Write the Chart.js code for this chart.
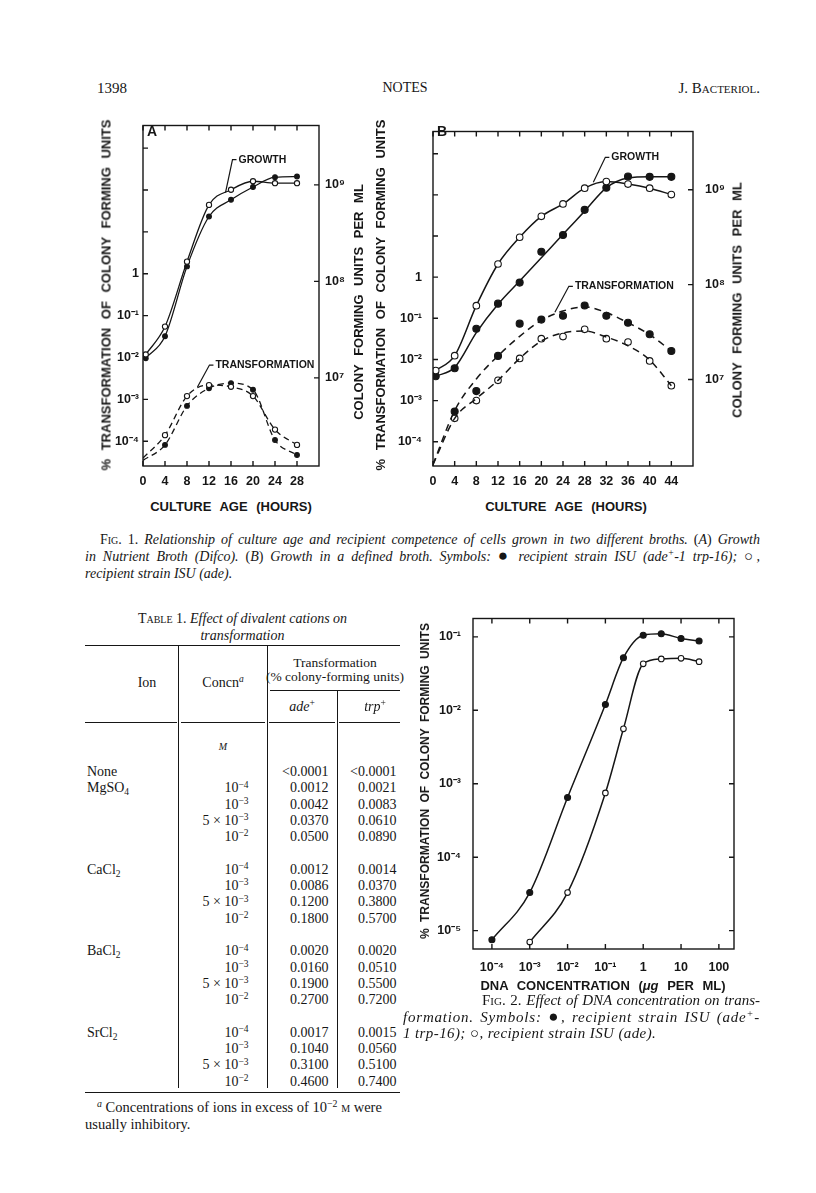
<!DOCTYPE html>
<html lang="en">
<head>
<meta charset="utf-8">
<title>J. Bacteriol. 1398 - Notes</title>
<script src="https://cdn.jsdelivr.net/npm/chart.js@4.4.1/dist/chart.umd.min.js"></script>
<style>
  html, body { margin: 0; padding: 0; background: #fff; }
  #page { position: relative; width: 816px; height: 1193px; overflow: hidden; color: #161616;
          font-family: "Liberation Serif", "Times New Roman", serif; }
  .t { position: absolute; white-space: nowrap; line-height: 16px; font-size: 14px; }
  .sc { font-variant: small-caps; }
  .jl { white-space: normal; text-align: justify; text-align-last: justify; }
  .dot { font-size: 17px; line-height: 0; }
  canvas { position: absolute; }
  .axt { position: absolute; white-space: nowrap; font-family: "Liberation Sans", Arial, sans-serif;
         font-weight: bold; font-size: 13px; word-spacing: 5px; line-height: 1;
         transform: translate(-50%, -50%); }
  .rot { transform: translate(-50%, -50%) rotate(-90deg); }
  .rule { position: absolute; background: #161616; }
  sup { font-size: 68%; vertical-align: 0; position: relative; top: -0.5em; line-height: 0; }
  sub { font-size: 68%; vertical-align: 0; position: relative; top: 0.3em; line-height: 0; }
</style>
</head>
<body>
<div id="page">
  <!-- running head -->
  <div class="t" style="left:97px;top:80px;font-size:15px;">1398</div>
  <div class="t" style="left:405px;top:80px;transform:translateX(-50%);">NOTES</div>
  <div class="t sc" style="right:56px;top:80px;font-size:15px;">J. Bacteriol.</div>

  <!-- Fig. 1 -->
  <canvas id="figA" width="258" height="384" style="left:103px;top:112px;width:258px;height:384px;"></canvas>
  <canvas id="figB" width="345" height="384" style="left:393px;top:112px;width:345px;height:384px;"></canvas>
  <div class="axt" style="left:152px;top:131px;font-size:14px;">A</div>
  <div class="axt" style="left:442px;top:131px;font-size:14px;">B</div>
  <div class="axt rot" style="left:106px;top:295px;">% TRANSFORMATION OF COLONY FORMING UNITS</div>
  <div class="axt rot" style="left:358px;top:302px;">COLONY FORMING UNITS PER ML</div>
  <div class="axt" style="left:231px;top:506px;">CULTURE AGE (HOURS)</div>
  <div class="axt rot" style="left:380px;top:295px;">% TRANSFORMATION OF COLONY FORMING UNITS</div>
  <div class="axt rot" style="left:737px;top:300px;">COLONY FORMING UNITS PER ML</div>
  <div class="axt" style="left:566px;top:506px;">CULTURE AGE (HOURS)</div>

  <div class="t jl" style="left:100px;top:532px;width:660px;"><span class="sc">Fig.</span> 1. <i>Relationship of culture age and recipient competence of cells grown in two different broths.</i> (<i>A</i>) <i>Growth</i></div>
  <div class="t jl" style="left:85px;top:549px;width:675px;"><i>in Nutrient Broth (Difco).</i> (<i>B</i>) <i>Growth in a defined broth. Symbols:</i> <span class="dot">&#9679;</span> <i>recipient strain ISU (ade<sup>+</sup>-1 trp-16);</i> <span class="dot" style="font-size:15px;">&#9675;</span><i>,</i></div>
  <div class="t" style="left:85px;top:566px;"><i>recipient strain ISU (ade).</i></div>

  <!-- Table 1 -->
  <div class="t" style="left:85px;top:610px;width:315px;text-align:center;white-space:normal;line-height:17px;"><span class="sc">Table</span> 1. <i>Effect of divalent cations on</i><br><i>transformation</i></div>
  <div id="table"></div>

  <!-- Fig. 2 -->
  <canvas id="fig2" width="316" height="380" style="left:428px;top:599px;width:316px;height:380px;"></canvas>
  <div class="axt rot" style="left:425px;top:781px;font-size:12px;word-spacing:3px;">% TRANSFORMATION OF COLONY FORMING UNITS</div>
  <div class="axt" style="left:603px;top:985px;">DNA CONCENTRATION (<i>&#956;g</i> PER ML)</div>
  <div class="t jl" style="left:482px;top:992px;width:278px;font-size:15px;"><span class="sc">Fig.</span> 2. <i>Effect of DNA concentration on trans-</i></div>
  <div class="t jl" style="left:403px;top:1009px;width:357px;font-size:15px;letter-spacing:0.8px;"><i>formation. Symbols:</i> <span class="dot">&#9679;</span><i>, recipient strain ISU (ade<sup>+</sup>-</i></div>
  <div class="t" style="left:403px;top:1025px;font-size:15px;letter-spacing:0.4px;"><i>1 trp-16);</i> <span class="dot" style="font-size:15px;">&#9675;</span><i>, recipient strain ISU (ade).</i></div>
</div>

<script>
// ---- Fig. 1A: Nutrient Broth ----
const hoursA = [0.5, 4, 8, 12, 16, 20, 24, 28];
const growthOpenA = [1.75e7, 3.4e7, 1.6e8, 6.2e8, 8.9e8, 1.09e9, 1.04e9, 1.04e9];
const growthFilledA = [1.6e7, 2.7e7, 1.43e8, 4.7e8, 7.0e8, 9.5e8, 1.2e9, 1.22e9];
const transHoursA = [0, 4, 8, 12, 16, 20, 24, 28];
const transOpenA = [4.0e-5, 1.4e-4, 1.2e-3, 2.2e-3, 2.0e-3, 1.2e-3, 1.9e-4, 8.2e-5];
const transFilledA = [3.5e-5, 8.2e-5, 7.0e-4, 1.85e-3, 2.45e-3, 1.7e-3, 1.07e-4, 4.7e-5];

// ---- Fig. 1B: defined broth ----
const hoursB = [0.5, 4, 8, 12, 16, 20, 24, 28, 32, 36, 40, 44];
const growthOpenB = [1.24e7, 1.78e7, 6.0e7, 1.65e8, 3.16e8, 5.25e8, 7.1e8, 1.04e9, 1.22e9, 1.15e9, 1.04e9, 8.9e8];
const growthFilledB = [1.08e7, 1.31e7, 3.43e7, 6.3e7, 1.05e8, 2.22e8, 3.34e8, 6.15e8, 1.05e9, 1.38e9, 1.37e9, 1.37e9];
const growthFilledFitB = [1.08e7, 1.34e7, 3.12e7, 6.2e7, 1.09e8, 1.92e8, 3.39e8, 5.96e8, 1.05e9, 1.33e9, 1.37e9, 1.37e9];
const transHoursB = [4, 8, 12, 16, 20, 24, 28, 32, 36, 40, 44];
const transFilledB = [5.4e-4, 1.7e-3, 1.22e-2, 7.4e-2, 9.3e-2, 0.115, 0.204, 0.115, 7.8e-2, 4.1e-2, 1.6e-2];
const transOpenB = [3.7e-4, 1.0e-3, 3.1e-3, 1.06e-2, 3.2e-2, 3.6e-2, 5.4e-2, 3.2e-2, 2.65e-2, 9.2e-3, 2.3e-3];
const fitHoursB = [0, 4, 8, 12, 16, 20, 24, 28, 32, 36, 40, 44];
const transFilledFitB = [2.8e-5, 5.7e-4, 3.35e-3, 1.22e-2, 3.65e-2, 8.9e-2, 0.150, 0.189, 0.138, 7.8e-2, 4.0e-2, 1.6e-2];
const transOpenFitB = [2.8e-5, 3.7e-4, 1.12e-3, 3.1e-3, 1.06e-2, 2.8e-2, 4.4e-2, 4.9e-2, 3.5e-2, 2.15e-2, 9.7e-3, 2.3e-3];

// ---- Fig. 2: DNA concentration ----
const dnaConc = [1e-4, 1e-3, 1e-2, 1e-1, 0.3, 1, 3, 10, 30];
const fig2Filled = [7.5e-6, 3.3e-5, 6.5e-4, 1.2e-2, 5.2e-2, 0.105, 0.11, 0.095, 0.088];
const fig2Open = [null, 7.0e-6, 3.3e-5, 7.5e-4, 5.6e-3, 4.3e-2, 5.0e-2, 5.1e-2, 4.6e-2];

// ---- tick labels ----
const hourTicksA = [0, 4, 8, 12, 16, 20, 24, 28];
const hourTicksB = [0, 4, 8, 12, 16, 20, 24, 28, 32, 36, 40, 44];
const transTicks = [1e-4, 1e-3, 1e-2, 1e-1, 1, 10, 100, 1000];
const cfuTicks = [1e7, 1e8, 1e9];
const dnaTicks = [1e-4, 1e-3, 1e-2, 1e-1, 1, 10, 100];
const fig2YTicks = [1e-5, 1e-4, 1e-3, 1e-2, 1e-1];

// ---- Table 1 ----
const tableIons = ['MgSO4', 'CaCl2', 'BaCl2', 'SrCl2'];
const concFactors = ['', '', '5 \u00d7 ', ''];
const concExponents = [-4, -3, -3, -2];
const noneValues = ['<0.0001', '<0.0001'];
const adeValues = [
  ['0.0012', '0.0042', '0.0370', '0.0500'],
  ['0.0012', '0.0086', '0.1200', '0.1800'],
  ['0.0020', '0.0160', '0.1900', '0.2700'],
  ['0.0017', '0.1040', '0.3100', '0.4600']
];
const trpValues = [
  ['0.0021', '0.0083', '0.0610', '0.0890'],
  ['0.0014', '0.0370', '0.3800', '0.5700'],
  ['0.0020', '0.0510', '0.5500', '0.7200'],
  ['0.0015', '0.0560', '0.5100', '0.7400']
];

const INK = '#161616';
const tickFont = { family: '"Liberation Sans", Arial, sans-serif', size: 12.5, weight: 'bold' };
const SUP = { '-': '\u207b', '0': '\u2070', '1': '\u00b9', '2': '\u00b2', '3': '\u00b3', '4': '\u2074', '5': '\u2075', '6': '\u2076', '7': '\u2077', '8': '\u2078', '9': '\u2079' };

function powLabel(v) {
  const e = Math.round(Math.log10(v));
  if (e === 0) return '1';
  if (e === 1) return '10';
  if (e === 2) return '100';
  return '10' + String(e).split('').map(c => SUP[c]).join('');
}

function pts(xs, ys) {
  return xs.map((x, i) => ({ x: x, y: ys[i] })).filter(p => p.y !== null);
}

// frame box, inward ticks and the leader-line labels
const framePlugin = {
  id: 'frame',
  afterDatasetsDraw(chart, args, opts) {
    const { ctx, chartArea: a, scales } = chart;
    const len = 5;
    ctx.save();
    ctx.strokeStyle = INK;
    ctx.lineWidth = 1.4;
    ctx.strokeRect(a.left, a.top, a.right - a.left, a.bottom - a.top);
    ctx.beginPath();
    scales.x.ticks.forEach(t => {
      const p = scales.x.getPixelForValue(t.value);
      ctx.moveTo(p, a.bottom); ctx.lineTo(p, a.bottom - len);
      ctx.moveTo(p, a.top); ctx.lineTo(p, a.top + len);
    });
    scales.y.ticks.forEach(t => {
      const p = scales.y.getPixelForValue(t.value);
      ctx.moveTo(a.left, p); ctx.lineTo(a.left + len, p);
      if (!scales.y2) { ctx.moveTo(a.right, p); ctx.lineTo(a.right - len, p); }
    });
    if (scales.y2) {
      scales.y2.ticks.forEach(t => {
        const p = scales.y2.getPixelForValue(t.value);
        ctx.moveTo(a.right, p); ctx.lineTo(a.right - len, p);
      });
    }
    ctx.stroke();

    (opts.notes || []).forEach(n => {
      const sx = scales.x.getPixelForValue(n.x);
      const sy = scales[n.axis].getPixelForValue(n.y);
      const ex = sx + n.dx, ey = sy + n.dy;
      ctx.beginPath();
      ctx.lineWidth = 1.2;
      ctx.moveTo(sx, sy); ctx.lineTo(ex, ey); ctx.lineTo(ex + 4, ey);
      ctx.stroke();
      ctx.fillStyle = INK;
      ctx.font = 'bold 10.5px "Liberation Sans", Arial, sans-serif';
      ctx.textBaseline = 'middle';
      ctx.fillText(n.text, ex + 6, ey);
    });
    ctx.restore();
  }
};

function hideAtZero(r) {
  return c => (c.raw && c.raw.x === 0 ? 0 : r);
}

function series(data, axis, opt) {
  return Object.assign({
    data: data,
    yAxisID: axis,
    borderColor: INK,
    borderWidth: 1.4,
    fill: false,
    cubicInterpolationMode: 'monotone',
    pointBorderColor: INK,
    pointBorderWidth: 1.1
  }, opt);
}

const noGrid = { display: false, drawTicks: false };

function fig1Scales(maxHours, hourTicks, leftPad, rightWidth, rightPad) {
  return {
    x: {
      type: 'linear', min: 0, max: maxHours,
      grid: noGrid, border: { display: false },
      afterFit: s => { s.height = 30; },
      afterBuildTicks: s => { s.ticks = hourTicks.map(v => ({ value: v })); },
      ticks: { padding: 8, autoSkip: false, maxRotation: 0, color: INK, font: tickFont, callback: v => String(v) }
    },
    y: {
      type: 'logarithmic', position: 'left', min: Math.pow(10, -4.59), max: Math.pow(10, 3.54),
      grid: noGrid, border: { display: false },
      afterFit: s => { s.width = 40; },
      afterBuildTicks: s => { s.ticks = transTicks.map(v => ({ value: v })); },
      ticks: { padding: leftPad, autoSkip: false, color: INK, font: tickFont, callback: v => (v <= 1 ? powLabel(v) : '') }
    },
    y2: {
      type: 'logarithmic', position: 'right', min: Math.pow(10, 6.087), max: Math.pow(10, 9.615),
      grid: noGrid, border: { display: false },
      afterFit: s => { s.width = rightWidth; },
      afterBuildTicks: s => { s.ticks = cfuTicks.map(v => ({ value: v })); },
      ticks: { padding: rightPad, autoSkip: false, color: INK, font: tickFont, callback: v => powLabel(v) }
    }
  };
}

function baseOptions(scales, notes) {
  return {
    responsive: false,
    devicePixelRatio: 1,
    animation: false,
    events: [],
    layout: { padding: { top: 10, right: 0, bottom: 0, left: 0 } },
    scales: scales,
    plugins: { legend: { display: false }, tooltip: { enabled: false }, frame: { notes: notes } }
  };
}

// Fig. 1A
new Chart(document.getElementById('figA'), {
  type: 'line',
  data: {
    datasets: [
      series(pts(hoursA, growthOpenA), 'y2', { pointRadius: 2.6, pointBackgroundColor: '#fff', borderWidth: 1.3 }),
      series(pts(hoursA, growthFilledA), 'y2', { pointRadius: 2.4, pointBackgroundColor: INK, borderWidth: 1.3 }),
      series(pts(transHoursA, transOpenA), 'y', { pointRadius: hideAtZero(2.6), pointBackgroundColor: '#fff', borderDash: [6, 4], borderWidth: 1.3 }),
      series(pts(transHoursA, transFilledA), 'y', { pointRadius: hideAtZero(2.4), pointBackgroundColor: INK, borderDash: [6, 4], borderWidth: 1.3 })
    ]
  },
  options: baseOptions(fig1Scales(32, hourTicksA, 4, 42, 6), [
    { text: 'GROWTH', x: 15.0, y: 8.3e8, axis: 'y2', dx: 7, dy: -33 },
    { text: 'TRANSFORMATION', x: 9.9, y: 1.97e-3, axis: 'y', dx: 12, dy: -22 }
  ]),
  plugins: [framePlugin]
});

// Fig. 1B
new Chart(document.getElementById('figB'), {
  type: 'line',
  data: {
    datasets: [
      series(pts(hoursB, growthOpenB), 'y2', { pointRadius: 3.3, pointBackgroundColor: '#fff', borderWidth: 1.5 }),
      series(pts(hoursB, growthFilledFitB), 'y2', { pointRadius: 0, borderWidth: 1.5 }),
      series(pts(hoursB, growthFilledB), 'y2', { showLine: false, pointRadius: 3.5, pointBackgroundColor: INK }),
      series(pts(fitHoursB, transFilledFitB), 'y', { pointRadius: 0, borderDash: [7, 5], borderWidth: 1.5 }),
      series(pts(fitHoursB, transOpenFitB), 'y', { pointRadius: 0, borderDash: [7, 5], borderWidth: 1.5 }),
      series(pts(transHoursB, transFilledB), 'y', { showLine: false, pointRadius: 3.5, pointBackgroundColor: INK }),
      series(pts(transHoursB, transOpenB), 'y', { showLine: false, pointRadius: 3.3, pointBackgroundColor: '#fff' })
    ]
  },
  options: baseOptions(fig1Scales(48, hourTicksB, 11, 45, 12), [
    { text: 'GROWTH', x: 29.6, y: 1.2e9, axis: 'y2', dx: 12, dy: -25 },
    { text: 'TRANSFORMATION', x: 22.5, y: 0.14, axis: 'y', dx: 14, dy: -26 }
  ]),
  plugins: [framePlugin]
});

// Fig. 2
const fig2Options = baseOptions({
  x: {
    type: 'logarithmic', min: Math.pow(10, -4.5), max: Math.pow(10, 2.4),
    grid: noGrid, border: { display: false },
    afterFit: s => { s.height = 30; },
    afterBuildTicks: s => { s.ticks = dnaTicks.map(v => ({ value: v })); },
    ticks: { padding: 11, autoSkip: false, maxRotation: 0, color: INK, font: tickFont, callback: v => powLabel(v) }
  },
  y: {
    type: 'logarithmic', position: 'left', min: Math.pow(10, -5.25), max: Math.pow(10, -0.75),
    grid: noGrid, border: { display: false },
    afterFit: s => { s.width = 45; },
    afterBuildTicks: s => { s.ticks = fig2YTicks.map(v => ({ value: v })); },
    ticks: { padding: 12, autoSkip: false, color: INK, font: tickFont, callback: v => powLabel(v) }
  }
}, []);
fig2Options.layout.padding.right = 10;

new Chart(document.getElementById('fig2'), {
  type: 'line',
  data: {
    datasets: [
      series(pts(dnaConc, fig2Filled), 'y', { pointRadius: 3, pointBackgroundColor: INK, borderWidth: 1.5 }),
      series(pts(dnaConc, fig2Open), 'y', { pointRadius: 2.8, pointBackgroundColor: '#fff', borderWidth: 1.5 })
    ]
  },
  options: fig2Options,
  plugins: [framePlugin]
});

// ---- Table 1 layout ----
(function buildTable() {
  const host = document.getElementById('table');
  const rowY = i => 772 + 16.3 * i;
  function cell(html, style) {
    const d = document.createElement('div');
    d.className = 't';
    d.innerHTML = html;
    d.style.cssText += style;
    host.appendChild(d);
  }
  function rule(x, y, w, h) {
    const d = document.createElement('div');
    d.className = 'rule';
    d.style.cssText = `left:${x}px;top:${y}px;width:${w}px;height:${h}px;`;
    host.appendChild(d);
  }
  const chem = s => s.replace(/(\d)$/, '<sub>$1</sub>');
  const right = (x, y) => `right:${816 - x}px;top:${y - 8}px;`;
  const centre = (x, y) => `left:${x}px;top:${y - 8}px;transform:translateX(-50%);`;

  rule(85, 645, 315, 1.3);
  rule(178, 646, 1.1, 442);
  rule(266.5, 646, 1.1, 442);
  rule(270, 690, 130, 1.1);
  rule(336.5, 691, 1.1, 397);
  [[85, 92], [180.5, 84], [269, 66], [339, 61]].forEach(s => rule(s[0], 722, s[1], 1.1));
  rule(85, 1092, 315, 1.3);

  cell('Ion', centre(147, 683));
  cell('Concn<sup><i>a</i></sup>', centre(223, 683));
  cell('Transformation', centre(335, 663) + 'font-size:13.5px;');
  cell('(% colony-forming units)', centre(335, 677) + 'font-size:13.5px;');
  cell('<i>ade</i><sup>+</sup>', centre(302, 707));
  cell('<i>trp</i><sup>+</sup>', centre(375, 707));
  cell('<i class="sc">m</i>', centre(223, 746));

  cell('None', `left:87px;top:${rowY(0) - 8}px;`);
  cell(noneValues[0], right(328.5, rowY(0)));
  cell(noneValues[1], right(396.5, rowY(0)));

  tableIons.forEach((ion, g) => {
    const first = 1 + g * 5;
    cell(chem(ion), `left:87px;top:${rowY(first) - 8}px;`);
    concExponents.forEach((e, k) => {
      const y = rowY(first + k);
      cell(`${concFactors[k]}10<sup>\u2212${Math.abs(e)}</sup>`, right(248.5, y));
      cell(adeValues[g][k], right(328.5, y));
      cell(trpValues[g][k], right(396.5, y));
    });
  });

  cell('<sup><i>a</i></sup> Concentrations of ions in excess of 10<sup>\u22122</sup> <span class="sc">m</span> were', 'left:97px;top:1099px;font-size:14.5px;');
  cell('usually inhibitory.', 'left:85px;top:1116px;font-size:14.5px;');
})();
</script>
</body>
</html>
